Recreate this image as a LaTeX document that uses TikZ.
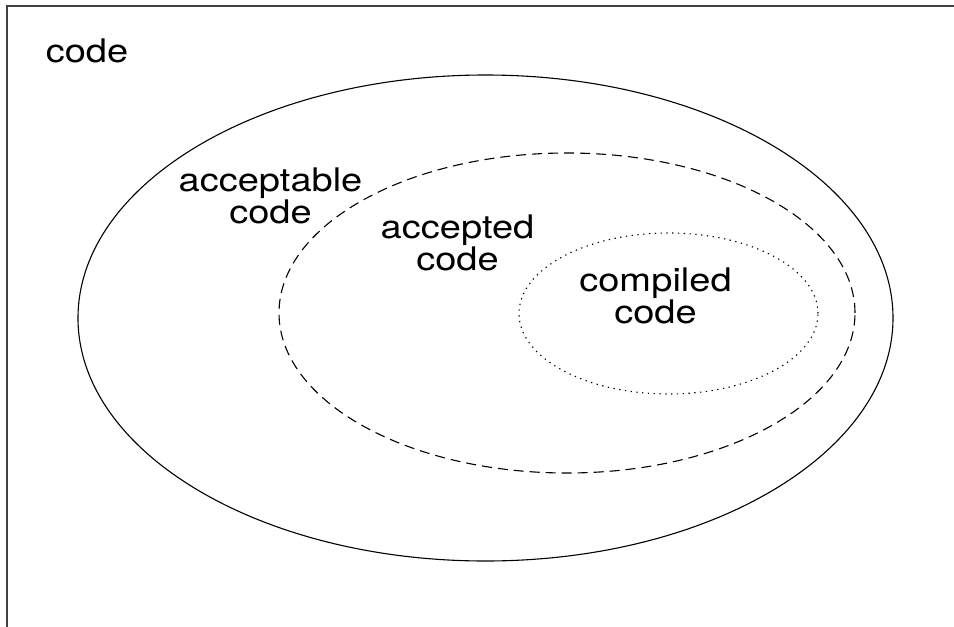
\documentclass[tikz,border=0pt]{standalone}
\usepackage{fontspec}
\setmainfont{TeX Gyre Heros}[FakeStretch=1.17]
\begin{document}
\begin{tikzpicture}[x=1pt,y=-1pt,
  lbl/.style={font=\fontsize{32.5}{30.5}\selectfont, align=center, inner sep=0pt, anchor=base},
  frameline/.style={draw=black!75, line width=1.6pt},
  setline/.style={draw=black, line width=1.1pt}]
\useasboundingbox (0,0) rectangle (954,627);
\draw[frameline] (7,627) -- (7,6) -- (954,6);
\draw[setline] (485.5,318) ellipse [x radius=407.5pt, y radius=243pt];
\draw[setline, dash pattern=on 10pt off 6pt] (567,313) ellipse [x radius=288pt, y radius=160pt];
\draw[setline, dash pattern=on 1.3pt off 4.5pt] (668.5,313.5) ellipse [x radius=149.5pt, y radius=80.5pt];
\node[lbl] (code) at (87,62.7) {code};
\node[lbl] (acceptable) at (270.5,223) {acceptable\\code};
\node[lbl] (accepted) at (457.5,270) {accepted\\code};
\node[lbl] (compiled) at (655.5,323) {compiled\\code};
\end{tikzpicture}
\end{document}
